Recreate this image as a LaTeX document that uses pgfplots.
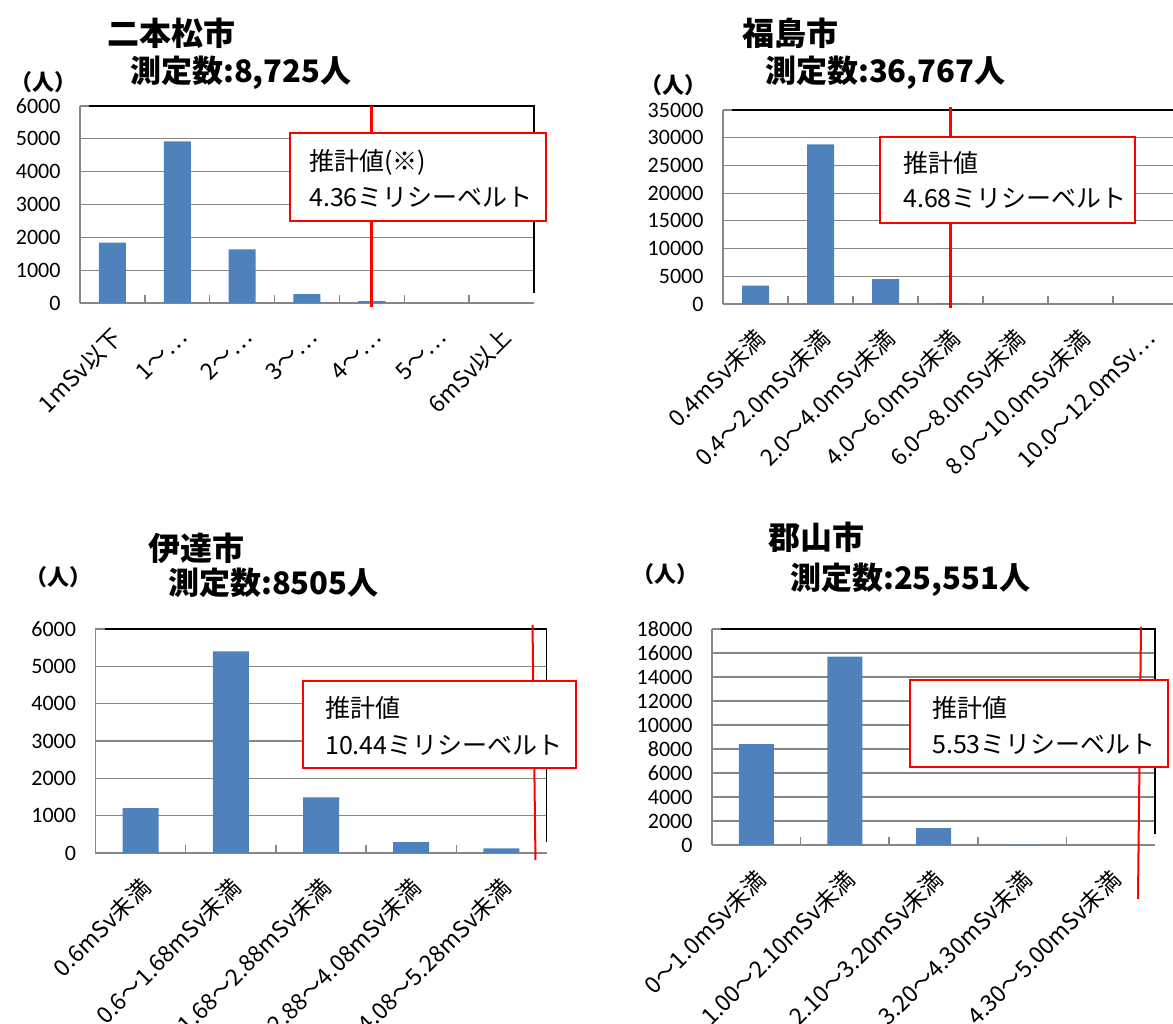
\documentclass[border=0pt]{standalone}
\usepackage{fontspec}
\setmainfont{Noto Sans CJK JP}
\newfontfamily\numfont{Carlito}
\usepackage{pgfplots}
\pgfplotsset{compat=1.18}
\definecolor{barblue}{RGB}{79,129,189}
\definecolor{gridgray}{RGB}{134,134,134}
\pgfplotsset{
  panel/.style={
    scale only axis, anchor=south west, clip=false,
    ybar, bar width=#1, bar shift=0pt,
    axis x line*=bottom, axis y line*=left,
    axis line style={draw=gridgray, line width=1.5pt, -},
    ymajorgrids, grid style={draw=gridgray, line width=1.2pt},
    tick align=inside,
    major tick length=0pt, minor tick length=8pt,
    tick style={draw=gridgray, line width=1.5pt},
    yticklabel style={font=\numfont\fontsize{22}{22}\selectfont, xshift=-16pt},
    xticklabel style={font=\fontsize{23}{23}\selectfont, xshift=8pt, yshift=-28pt, rotate=45, anchor=east},
    /pgf/number format/assume math mode=true,
    /pgf/number format/1000 sep={},
    scaled y ticks=false,
    ymin=0, enlargelimits=false,
  },
}
\newcommand{\blackframe}{\draw[black, line width=1.5pt] (rel axis cs:0.02,1) -- (rel axis cs:1,1) -- (rel axis cs:1,0.05);}
\begin{document}
\begin{tikzpicture}[x=1pt,y=1pt]
\coordinate (P1) at (80,721);
\coordinate (P2) at (723,720);
\coordinate (P3) at (95.5,171);
\coordinate (P4) at (712,179);

% ---------- Panel 1: 二本松市 ----------
\begin{axis}[panel=27pt, at={(P1)}, width=454pt, height=197pt,
  xmin=-0.5, xmax=6.5, ymax=6000, ytick={0,1000,...,6000},
  xtick={0,...,6}, minor xtick={0.5,1.5,...,5.5},
  xticklabels={1mSv以下,1～…,2～…,3～…,4～…,5～…,6mSv以上}]
\addplot[fill=barblue, draw=none] coordinates {(0,1840) (1,4920) (2,1630) (3,270) (4,60) (5,3) (6,2)};
\blackframe
\draw[red, line width=3pt] (axis cs:4,-120) -- (axis cs:4,6000);
\end{axis}

% ---------- Panel 2: 福島市 ----------
\begin{axis}[panel=27pt, at={(P2)}, width=455pt, height=194pt,
  xmin=-0.5, xmax=6.5, ymax=35000, ytick={0,5000,...,35000},
  xtick={0,...,6}, minor xtick={0.5,1.5,...,5.5},
  xticklabels={0.4mSv未満,0.4～2.0mSv未満,2.0～4.0mSv未満,4.0～6.0mSv未満,6.0～8.0mSv未満,8.0～10.0mSv未満,10.0～12.0mSv…}]
\addplot[fill=barblue, draw=none] coordinates {(0,3300) (1,28800) (2,4500) (3,130) (4,25) (5,8) (6,4)};
\blackframe
\draw[red, line width=3pt] (axis cs:3,-720) -- (axis cs:3,35500);
\end{axis}

% ---------- Panel 3: 伊達市 ----------
\begin{axis}[panel=36pt, at={(P3)}, width=451pt, height=224pt,
  xmin=-0.5, xmax=4.5, ymax=6000, ytick={0,1000,...,6000},
  xtick={0,...,4}, minor xtick={0.5,1.5,...,3.5},
  xticklabels={0.6mSv未満,0.6～1.68mSv未満,1.68～2.88mSv未満,2.88～4.08mSv未満,4.08～5.28mSv未満}]
\addplot[fill=barblue, draw=none] coordinates {(0,1200) (1,5400) (2,1490) (3,290) (4,125)};
\blackframe
\draw[red, line width=2pt] (axis cs:4.345,6110) -- (axis cs:4.378,-190);
\end{axis}

% ---------- Panel 4: 郡山市 ----------
\begin{axis}[panel=35pt, at={(P4)}, width=443pt, height=216pt,
  xmin=-0.5, xmax=4.5, ymax=18000, ytick={0,2000,...,18000},
  xtick={0,...,4}, minor xtick={0.5,1.5,...,3.5},
  xticklabels={0～1.0mSv未満,1.00～2.10mSv未満,2.10～3.20mSv未満,3.20～4.30mSv未満,4.30～5.00mSv未満}]
\addplot[fill=barblue, draw=none] coordinates {(0,8400) (1,15700) (2,1400) (3,40) (4,11)};
\blackframe
\draw[red, line width=2pt] (axis cs:4.342,18170) -- (axis cs:4.308,-4500);
\end{axis}

% ---------- titles ----------
\tikzset{ttl/.style={anchor=west, inner sep=0pt, font=\bfseries\fontsize{32}{34}\selectfont},
         sub/.style={anchor=west, inner sep=0pt, font=\bfseries\fontsize{31}{33}\selectfont},
         unit/.style={anchor=west, inner sep=0pt, font=\bfseries\fontsize{22}{24}\selectfont},
         boxt/.style={anchor=west, inner sep=0pt, font=\fontsize{25}{27}\selectfont}}
\node[ttl] at (107,991) {二本松市};
\node[sub] at (130,951) {測定数:8,725人};
\node[unit] at (10,942) {（人）};

\node[ttl] at (742,991) {福島市};
\node[sub] at (765,951) {測定数:36,767人};
\node[unit] at (640,939) {（人）};

\node[ttl] at (148,476) {伊達市};
\node[sub] at (168,441) {測定数:8505人};
\node[unit] at (25,447) {（人）};

\node[ttl] at (768,487) {郡山市};
\node[sub] at (790,444) {測定数:25,551人};
\node[unit] at (632,450) {（人）};

% ---------- boxes ----------
\draw[red, line width=1.5pt, fill=white] (290,891) rectangle (546,803);
\node[boxt] at (309,862) {推計値(※)};
\node[boxt] at (309,827) {4.36ミリシーベルト};

\draw[red, line width=1.5pt, fill=white] (880,887) rectangle (1135,801);
\node[boxt] at (903,861) {推計値};
\node[boxt] at (903,826) {4.68ミリシーベルト};

\draw[red, line width=1.5pt, fill=white] (303,343) rectangle (576,256);
\node[boxt] at (325,316) {推計値};
\node[boxt] at (325,279) {10.44ミリシーベルト};

\draw[red, line width=1.5pt, fill=white] (910,344) rectangle (1168,257);
\node[boxt] at (932,316) {推計値};
\node[boxt] at (932,280) {5.53ミリシーベルト};

\pgfresetboundingbox
\path[use as bounding box] (0,0) rectangle (1173,1024);
\end{tikzpicture}
\end{document}
